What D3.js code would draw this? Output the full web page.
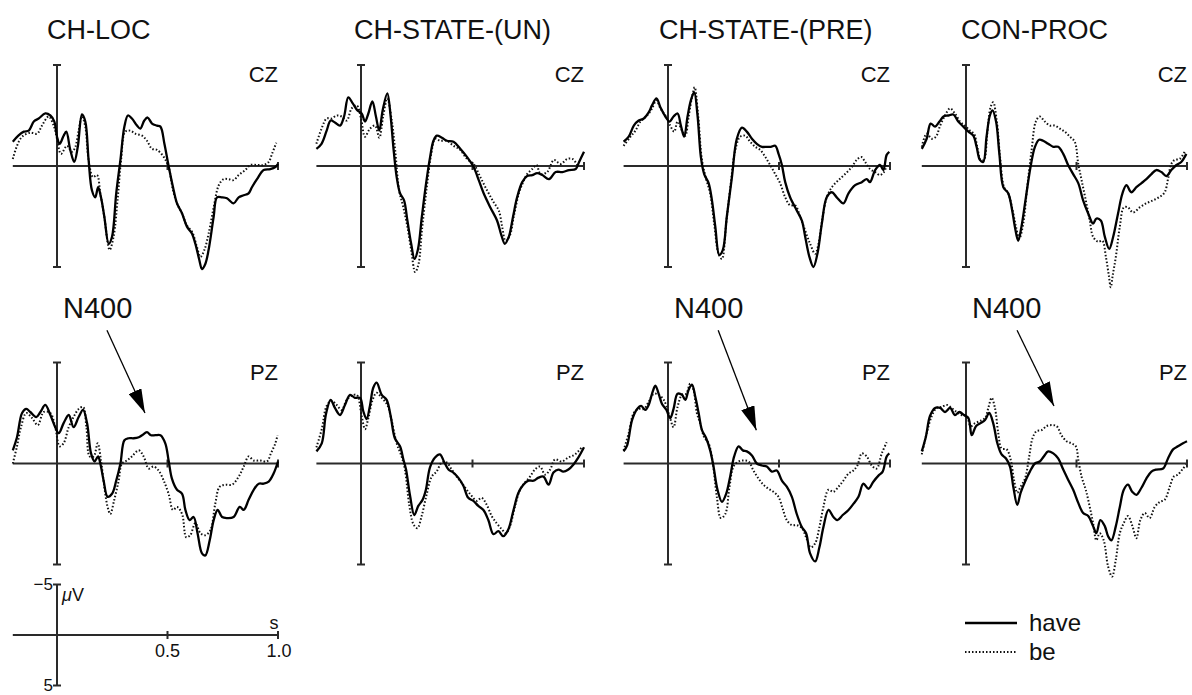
<!DOCTYPE html>
<html><head><meta charset="utf-8">
<script src="https://cdn.jsdelivr.net/npm/d3@7"></script>
<style>
body{margin:0;background:#fff}
svg{display:block}
text{font-family:"Liberation Sans",Arial,Helvetica,sans-serif;fill:#111}
</style>
</head><body>
<svg id="chart" width="1192" height="695"></svg>
<script>
// ---- categories ----
const conditions = ["CH-LOC", "CH-STATE-(UN)", "CH-STATE-(PRE)", "CON-PROC"];
const electrodes = ["CZ", "PZ"];
const seriesNames = ["have", "be"];
// ---- scale-bar tick labels ----
const timeTickValues = [500, 1000];
const timeTickLabels = ["0.5", "1.0"];
const voltTickValues = [-5, 5];
const voltTickLabels = ["\u22125", "5"];

// ---- series values: [time (ms), amplitude (µV), negative up] ----
const chLocCzHave = [[-200,-2.4],[-175,-3.0],[-150,-3.4],[-128,-3.5],[-105,-4.4],[-83,-4.7],[-53,-5.2],[-30,-5.0],[-12,-4.4],[0,-2.9],[12,-2.2],[30,-3.0],[42,-3.4],[60,-1.6],[78,-0.4],[94,-1.9],[113,-5.1],[128,-4.4],[143,-0.6],[158,2.4],[173,3.1],[186,2.1],[199,3.1],[214,5.0],[234,7.7],[249,7.0],[268,2.7],[287,-0.6],[305,-3.9],[321,-5.0],[339,-4.7],[362,-4.0],[377,-3.7],[395,-4.5],[410,-4.8],[430,-4.2],[452,-4.0],[468,-3.9],[486,-2.2],[505,0],[525,2.1],[543,3.7],[566,4.7],[588,6.0],[611,6.7],[626,7.7],[644,9.3],[656,10.2],[671,9.7],[686,8.3],[709,5.0],[724,3.1],[747,3.1],[769,3.2],[799,3.7],[822,3.1],[845,2.9],[867,2.7],[882,2.1],[905,1.3],[935,0.4],[965,0.3],[988,0.1],[1000,-0.2]];
const chLocCzBe = [[-200,-0.7],[-181,-2.0],[-158,-2.9],[-121,-3.3],[-90,-3.2],[-68,-4.0],[-38,-4.9],[-15,-4.0],[0,-2.7],[18,-1.2],[45,-2.0],[68,-1.4],[83,-1.9],[98,-3.5],[113,-4.9],[128,-3.9],[143,-0.6],[163,1.1],[181,0.9],[196,2.7],[214,5.0],[238,8.3],[256,7.0],[275,3.1],[290,-0.6],[309,-3.4],[332,-3.5],[354,-3.2],[385,-3.0],[407,-2.5],[430,-1.7],[452,-1.6],[483,-0.9],[505,0.1],[525,2.4],[543,3.7],[566,4.7],[588,5.9],[611,6.5],[633,8.0],[649,9.0],[667,8.3],[686,6.7],[709,4.1],[732,1.9],[754,1.3],[777,1.3],[799,1.4],[822,0.9],[852,0.4],[875,-0.1],[905,-0.1],[935,-0.1],[958,-0.4],[973,-1.2],[992,-2.3]];
const chStUnCzHave = [[-200,-1.7],[-177,-2.2],[-154,-3.5],[-136,-4.5],[-117,-4.3],[-94,-4.0],[-76,-4.9],[-57,-6.8],[-37,-6.2],[-16,-5.5],[3,-5.2],[18,-4.4],[33,-5.2],[51,-6.4],[67,-4.9],[82,-3.5],[97,-5.5],[118,-7.2],[133,-4.9],[145,-1.9],[160,1.1],[175,2.7],[193,3.4],[208,5.4],[225,7.7],[240,9.2],[255,8.3],[273,5.0],[292,1.7],[310,-0.9],[325,-2.5],[340,-3.0],[363,-2.8],[385,-2.5],[415,-2.4],[445,-1.7],[475,-0.9],[505,0.1],[528,1.4],[550,2.7],[580,4.1],[610,5.4],[630,6.9],[645,7.7],[663,7.0],[682,5.0],[700,3.1],[723,1.6],[745,1.0],[768,0.9],[790,0.7],[813,0.9],[843,1.3],[873,0.6],[903,0.6],[933,0.4],[963,0.3],[978,-0.4],[1000,-1.4]];
const chStUnCzBe = [[-200,-2.2],[-177,-3.7],[-154,-4.7],[-132,-4.7],[-109,-5.0],[-87,-4.9],[-64,-4.5],[-42,-5.7],[-19,-6.0],[0,-4.7],[18,-2.9],[40,-3.7],[63,-4.0],[82,-2.8],[100,-5.0],[118,-6.7],[138,-4.5],[153,-1.6],[171,2.4],[190,4.1],[208,6.0],[225,8.3],[243,10.5],[258,9.7],[273,6.4],[295,2.1],[315,-1.2],[333,-2.7],[355,-2.5],[385,-2.5],[415,-2.0],[445,-1.6],[475,-0.7],[505,-0.2],[535,1.1],[565,2.4],[595,3.6],[618,4.4],[633,6.0],[648,7.4],[667,6.9],[685,5.0],[708,2.7],[727,1.6],[745,0.8],[768,0.3],[787,-0.1],[805,0.8],[835,0.6],[865,-0.6],[895,-0.2],[925,-0.7],[948,-0.7],[970,-0.1]];
const chStPreCzHave = [[-200,-2.4],[-177,-2.9],[-154,-4.0],[-132,-4.5],[-109,-4.7],[-87,-5.3],[-72,-6.0],[-52,-6.7],[-34,-5.8],[-12,-4.9],[7,-4.4],[25,-4.9],[43,-5.2],[58,-4.0],[73,-2.9],[88,-4.9],[103,-6.5],[118,-7.3],[133,-5.0],[148,-0.9],[163,0.8],[183,1.7],[198,3.4],[213,6.0],[231,8.8],[247,8.3],[265,5.0],[288,1.1],[310,-2.7],[333,-3.8],[355,-3.4],[378,-2.7],[400,-2.2],[423,-1.9],[445,-1.9],[463,-1.9],[483,-2.0],[498,-1.2],[513,-0.1],[528,1.6],[550,3.1],[580,4.4],[603,5.4],[618,7.0],[637,9.0],[655,10.0],[673,8.7],[693,5.7],[715,3.1],[738,2.6],[760,3.1],[790,3.7],[813,2.7],[843,1.9],[873,1.6],[895,1.3],[910,1.6],[933,0.4],[955,-0.1],[970,0.4],[985,-1.1],[997,-1.4]];
const chStPreCzBe = [[-200,-2.0],[-169,-2.9],[-147,-3.5],[-124,-4.4],[-94,-5.0],[-72,-5.7],[-52,-6.5],[-34,-5.7],[-12,-5.0],[10,-4.0],[28,-3.4],[43,-4.4],[63,-3.5],[78,-3.0],[93,-4.9],[108,-6.8],[120,-7.8],[135,-5.2],[153,-0.6],[172,1.3],[190,2.7],[208,5.7],[228,8.7],[243,9.2],[262,5.7],[283,1.7],[303,-1.6],[325,-2.9],[348,-3.0],[370,-2.4],[393,-1.9],[415,-1.6],[438,-0.9],[460,-0.1],[483,0.8],[505,1.7],[528,3.1],[550,3.9],[573,3.9],[595,5.0],[618,6.4],[640,7.7],[663,8.7],[678,7.7],[697,5.0],[715,3.1],[738,2.1],[768,1.4],[798,0.8],[828,0.1],[850,-0.6],[870,-0.9],[888,-0.4],[910,0.3],[933,0.6],[955,0.9],[973,0.6],[985,-0.1]];
const conProcCzHave = [[-200,-1.7],[-178,-2.7],[-160,-4.2],[-140,-3.9],[-120,-4.4],[-102,-4.9],[-80,-5.0],[-57,-5.1],[-35,-4.4],[-12,-3.9],[11,-3.4],[33,-3.0],[48,-1.9],[63,-0.6],[78,-0.4],[93,-2.9],[108,-5.0],[120,-5.5],[136,-4.4],[151,-1.2],[169,2.1],[191,2.7],[209,4.4],[221,6.0],[236,7.4],[251,6.0],[271,3.1],[292,0.1],[312,-1.9],[331,-2.6],[349,-2.5],[372,-2.2],[395,-1.9],[417,-1.9],[440,-1.2],[462,-0.1],[485,0.8],[508,1.7],[530,3.4],[553,4.7],[575,5.7],[590,5.2],[610,5.4],[628,7.0],[648,8.2],[666,7.0],[688,4.7],[708,2.7],[726,1.9],[748,2.6],[771,2.1],[794,1.7],[816,1.3],[839,0.8],[861,0.4],[884,0.6],[907,1.0],[929,0.4],[952,-0.1],[974,-0.4],[997,-1.2]];
const conProcCzBe = [[-200,-1.9],[-178,-3.2],[-155,-2.7],[-136,-2.9],[-117,-4.0],[-95,-5.0],[-72,-5.7],[-50,-5.2],[-27,-4.4],[-5,-4.0],[18,-3.5],[36,-3.2],[51,-1.9],[66,-0.6],[81,-0.6],[96,-3.2],[111,-5.8],[123,-6.3],[139,-4.5],[154,-0.9],[172,2.1],[191,2.7],[211,4.4],[226,6.0],[241,7.2],[259,5.7],[277,2.1],[297,-1.6],[316,-4.4],[334,-4.9],[357,-4.4],[380,-4.0],[402,-4.0],[425,-3.7],[447,-3.4],[470,-2.9],[492,-2.4],[508,-0.2],[523,1.4],[542,3.4],[560,5.4],[575,7.0],[598,7.5],[617,7.4],[633,9.0],[646,10.8],[655,12.0],[664,10.8],[678,9.0],[696,6.0],[714,4.1],[733,4.1],[756,4.6],[786,4.1],[816,3.7],[846,3.4],[873,3.1],[899,2.6],[914,1.3],[929,-0.2],[944,-0.6],[967,-0.7],[989,-1.4]];
const chLocPzHave = [[-200,-1.3],[-181,-2.6],[-158,-5.0],[-139,-5.4],[-121,-5.1],[-94,-4.6],[-75,-5.1],[-53,-5.8],[-30,-4.8],[-8,-3.6],[8,-3.0],[30,-4.0],[53,-4.8],[75,-3.6],[98,-4.6],[118,-5.3],[136,-4.0],[154,-1.0],[170,-0.2],[186,-0.7],[196,0],[211,1.7],[229,3.3],[249,3.0],[268,1.7],[287,0],[305,-2.3],[324,-2.5],[347,-2.5],[370,-2.6],[385,-2.8],[407,-3.1],[425,-2.8],[445,-2.8],[468,-2.8],[490,-2.0],[505,-0.3],[520,1.5],[543,2.6],[566,3.0],[581,4.6],[600,5.6],[618,5.3],[636,6.9],[656,8.9],[671,9.1],[691,7.6],[709,5.6],[727,4.6],[747,5.3],[769,5.4],[799,5.3],[827,4.3],[845,4.6],[867,3.6],[890,2.6],[913,2.0],[935,2.0],[958,1.8],[980,1.0],[1000,-0.2]];
const chLocPzBe = [[-200,0],[-181,-1.7],[-163,-3.6],[-139,-5.0],[-113,-4.5],[-87,-3.8],[-60,-5.1],[-30,-5.0],[-8,-3.6],[12,-1.7],[30,-2.0],[53,-3.6],[75,-4.6],[98,-5.4],[118,-5.6],[133,-3.6],[148,-0.7],[166,-0.7],[184,-2.0],[199,-0.3],[214,2.3],[229,4.3],[241,5.0],[259,3.6],[279,1.7],[294,0],[317,-0.3],[339,-0.7],[370,-1.3],[392,-0.7],[415,0.5],[437,0.3],[460,0.7],[483,1.7],[505,3.0],[525,4.6],[543,4.3],[566,5.0],[585,7.3],[603,7.1],[626,5.9],[649,6.9],[671,7.1],[694,6.6],[716,4.0],[736,2.3],[762,2.1],[792,2.1],[822,1.3],[845,0.3],[867,-0.7],[890,-0.3],[920,-0.3],[950,-0.2],[968,-1.0],[988,-2.0],[998,-2.8]];
const chStUnPzHave = [[-200,-1.2],[-176,-2.0],[-157,-4.9],[-136,-6.3],[-117,-5.5],[-94,-4.8],[-72,-5.8],[-49,-6.8],[-27,-6.5],[-4,-6.5],[10,-5.2],[25,-4.4],[40,-5.7],[55,-7.5],[70,-8.0],[93,-6.8],[115,-6.3],[133,-4.7],[152,-2.5],[175,-1.7],[190,-0.4],[202,0.6],[220,3.2],[239,5.1],[257,4.2],[276,3.6],[291,2.6],[309,0.4],[332,-0.6],[354,-0.9],[372,-0.2],[392,0.6],[414,0.9],[436,1.4],[459,2.2],[481,3.4],[504,3.7],[526,4.2],[549,4.6],[571,5.6],[594,7.0],[616,6.7],[638,7.2],[661,6.5],[684,4.6],[706,2.9],[728,2.1],[751,1.7],[774,1.7],[796,1.4],[818,1.3],[841,2.1],[863,0.9],[885,0.6],[907,0.8],[930,0.6],[953,0.1],[975,-0.6],[1000,-1.6]];
const chStUnPzBe = [[-200,-1.6],[-176,-3.4],[-154,-5.7],[-132,-6.2],[-109,-5.8],[-87,-5.3],[-64,-6.3],[-42,-6.7],[-19,-6.8],[3,-4.7],[18,-3.4],[33,-4.5],[52,-6.3],[70,-7.0],[93,-6.5],[118,-5.8],[138,-4.2],[160,-2.0],[182,-0.7],[197,0.6],[217,4.2],[235,6.0],[253,6.4],[272,5.2],[294,3.1],[317,1.3],[339,0.8],[362,-0.1],[384,-0.1],[407,0.6],[429,1.3],[451,1.9],[474,2.6],[496,3.2],[519,3.7],[541,3.4],[564,4.1],[586,5.2],[608,5.9],[631,6.5],[650,6.9],[668,6.2],[691,4.2],[713,2.6],[735,1.9],[758,1.3],[780,0.6],[803,0.3],[825,1.1],[848,0.6],[870,-0.4],[900,-0.2],[930,-0.6],[960,-0.9],[990,-1.6]];
const chStPrePzHave = [[-200,-1.2],[-184,-1.8],[-162,-4.3],[-139,-5.4],[-121,-5.7],[-102,-5.3],[-87,-5.8],[-72,-6.9],[-57,-7.7],[-42,-6.9],[-27,-5.9],[-7,-5.3],[10,-4.5],[25,-5.4],[43,-6.9],[63,-6.8],[78,-6.3],[93,-7.3],[108,-7.8],[123,-6.6],[138,-5.0],[153,-3.3],[172,-2.5],[190,-1.3],[205,0.3],[223,2.6],[243,3.8],[262,3.0],[280,1.3],[298,-0.7],[318,-1.7],[337,-1.3],[355,-1.2],[378,-0.8],[400,0],[423,0.2],[445,0.3],[468,0.8],[490,0.7],[513,1.7],[535,2.3],[558,3.3],[580,5.0],[603,6.3],[622,6.9],[640,8.9],[663,9.7],[682,8.3],[700,6.3],[723,4.6],[745,5.3],[763,5.6],[787,5.1],[813,4.6],[835,4.0],[858,3.3],[880,2.0],[903,2.5],[925,1.8],[948,1.2],[967,0.8],[985,-0.7],[997,-1.0]];
const chStPrePzBe = [[-200,-1.3],[-177,-3.0],[-154,-5.0],[-132,-5.4],[-109,-5.4],[-87,-6.1],[-64,-6.9],[-42,-6.8],[-19,-6.3],[3,-5.0],[25,-3.6],[43,-5.6],[63,-6.8],[82,-6.9],[100,-7.9],[115,-7.3],[130,-5.0],[145,-4.0],[163,-2.6],[183,-2.0],[202,0],[220,3.3],[238,5.4],[258,5.0],[277,2.3],[295,0.3],[318,-0.2],[340,-0.3],[363,-0.2],[385,0.7],[408,1.5],[430,2.1],[453,2.5],[475,2.8],[498,3.3],[517,4.5],[535,5.6],[558,6.1],[580,6.1],[603,6.4],[622,7.3],[643,8.3],[663,7.9],[682,6.3],[700,4.3],[723,2.6],[745,2.8],[768,2.3],[790,1.7],[813,1.0],[835,0.7],[853,0.2],[873,-1.0],[895,-0.7],[918,0.2],[940,0.5],[963,-1.0],[985,-2.1]];
const conProcPzHave = [[-200,-1.2],[-181,-2.7],[-163,-4.7],[-140,-5.5],[-117,-5.5],[-95,-5.1],[-72,-5.5],[-50,-4.8],[-30,-5.1],[-9,-4.8],[11,-4.5],[26,-2.8],[45,-3.7],[66,-4.0],[86,-4.3],[105,-5.0],[123,-4.0],[142,-2.0],[161,-0.9],[181,-0.5],[199,0.3],[214,2.3],[232,4.1],[247,2.9],[267,1.8],[289,0.8],[312,0],[334,-0.2],[352,-0.7],[372,-1.2],[395,-1.0],[417,-0.5],[440,0.6],[462,1.6],[485,2.6],[508,3.9],[530,4.9],[553,5.2],[575,6.2],[590,6.9],[608,5.6],[628,6.2],[643,7.2],[658,7.6],[678,6.2],[696,4.3],[714,2.6],[733,2.1],[752,2.8],[771,3.1],[794,2.4],[816,1.5],[839,0.8],[861,0.6],[892,0.5],[914,-0.5],[937,-1.4],[959,-1.7],[982,-2.0],[1000,-2.2]];
const conProcPzBe = [[-200,-0.9],[-178,-3.0],[-155,-4.7],[-133,-5.5],[-110,-5.6],[-87,-5.8],[-65,-5.5],[-42,-5.1],[-20,-4.8],[3,-4.7],[21,-3.7],[41,-4.0],[63,-4.2],[86,-4.5],[101,-5.5],[116,-6.5],[131,-5.5],[146,-3.0],[161,-1.5],[184,-1.4],[202,-0.4],[217,1.6],[232,2.9],[247,2.3],[267,1.5],[286,-0.7],[301,-2.5],[319,-3.2],[342,-3.3],[364,-3.7],[387,-3.8],[410,-3.7],[432,-2.8],[455,-2.2],[477,-2.0],[497,-1.7],[508,-0.4],[523,1.3],[542,2.6],[560,4.3],[575,5.9],[590,7.6],[605,6.9],[623,7.6],[643,10.2],[661,11.2],[678,9.5],[696,6.9],[714,5.9],[733,5.2],[753,6.2],[771,7.4],[789,5.6],[809,4.9],[831,5.4],[854,4.3],[877,3.8],[899,3.6],[922,2.3],[940,1.3],[959,1.1],[982,0.5],[997,0.1]];

// ---- N400 annotations: panel (col,row), arrow from/to in (ms, µV) ----
const n400Cols = [0, 2, 3];
const n400From = [[226,-13.2],[226,-13.2],[231,-13.2]];
const n400To = [[398,-5.0],[398,-3.3],[398,-5.7]];

// ---- build table ----
const panelSeries = [
  [[chLocCzHave, chLocCzBe], [chLocPzHave, chLocPzBe]],
  [[chStUnCzHave, chStUnCzBe], [chStUnPzHave, chStUnPzBe]],
  [[chStPreCzHave, chStPreCzBe], [chStPrePzHave, chStPrePzBe]],
  [[conProcCzHave, conProcCzBe], [conProcPzHave, conProcPzBe]]
];

// ---- layout ----
const svg = d3.select("#chart");
const colZeroX = [57, 361, 668, 966];
const colEndX = [278, 584, 890, 1187];
const titleX = [47, 354, 659, 961];
const rowZeroY = [166, 463.5];
const pxPerUV = 10.1;
const AX = "#2a2a2a";

svg.append("defs").append("marker")
  .attr("id", "ah").attr("markerUnits", "userSpaceOnUse")
  .attr("viewBox", "0 -7 24 14").attr("refX", 24).attr("refY", 0)
  .attr("markerWidth", 24).attr("markerHeight", 14).attr("orient", "auto")
  .append("path").attr("d", "M0,-7L24,0L0,7Z").attr("fill", "#000");

function scalesFor(c, r) {
  const x = d3.scaleLinear().domain([0, 1000]).range([colZeroX[c], colEndX[c]]);
  const y = d3.scaleLinear().domain([-10, 10]).range([rowZeroY[r] - 10 * pxPerUV, rowZeroY[r] + 10 * pxPerUV]);
  return {x, y};
}

conditions.forEach((cond, c) => {
  svg.append("text").attr("x", titleX[c]).attr("y", 39).attr("font-size", 27).text(cond);
  electrodes.forEach((el, r) => {
    const {x, y} = scalesFor(c, r);
    const g = svg.append("g");
    g.append("line").attr("x1", x(-200)).attr("x2", x(1000)).attr("y1", y(0)).attr("y2", y(0))
      .attr("stroke", AX).attr("stroke-width", 2);
    g.selectAll(".tt").data(timeTickValues).join("line")
      .attr("x1", d => x(d)).attr("x2", d => x(d)).attr("y1", y(0) - 4).attr("y2", y(0) + 4)
      .attr("stroke", AX).attr("stroke-width", 2);
    g.append("line").attr("x1", x(0)).attr("x2", x(0)).attr("y1", y(-10)).attr("y2", y(10))
      .attr("stroke", AX).attr("stroke-width", 2);
    g.selectAll(".vt").data([-10, 10]).join("line")
      .attr("x1", x(0) - 4).attr("x2", x(0) + 4).attr("y1", d => y(d)).attr("y2", d => y(d))
      .attr("stroke", AX).attr("stroke-width", 2);
    g.append("text").attr("x", x(1000)).attr("y", y(0) - 84).attr("text-anchor", "end")
      .attr("font-size", 22).text(el);
    const line = d3.line().x(d => x(d[0])).y(d => y(d[1])).curve(d3.curveCatmullRom.alpha(0.5));
    const [have, be] = panelSeries[c][r];
    g.append("path").datum(be).attr("d", line).attr("fill", "none")
      .attr("stroke", "#111").attr("stroke-width", 2).attr("stroke-dasharray", "1.5,2");
    g.append("path").datum(have).attr("d", line).attr("fill", "none")
      .attr("stroke", "#000").attr("stroke-width", 2.3).attr("stroke-linejoin", "round");
  });
});

n400Cols.forEach((c, i) => {
  const {x, y} = scalesFor(c, 1);
  svg.append("text").attr("x", x(0) + 6).attr("y", y(-14.4)).attr("font-size", 29).text("N400");
  svg.append("line").attr("x1", x(n400From[i][0])).attr("y1", y(n400From[i][1]))
    .attr("x2", x(n400To[i][0])).attr("y2", y(n400To[i][1]))
    .attr("stroke", "#000").attr("stroke-width", 1.3).attr("marker-end", "url(#ah)");
});

// scale bar (bottom left)
{
  const x = d3.scaleLinear().domain([0, 1000]).range([colZeroX[0], colEndX[0]]);
  const y = d3.scaleLinear().domain([-5, 5]).range([635 - 5 * pxPerUV, 635 + 5 * pxPerUV]);
  const g = svg.append("g");
  g.append("line").attr("x1", x(-200)).attr("x2", x(1000)).attr("y1", y(0)).attr("y2", y(0))
    .attr("stroke", AX).attr("stroke-width", 2);
  g.selectAll(".tt").data(timeTickValues).join("line")
    .attr("x1", d => x(d)).attr("x2", d => x(d)).attr("y1", y(0) - 4).attr("y2", y(0) + 4)
    .attr("stroke", AX).attr("stroke-width", 2);
  g.selectAll(".tl").data(timeTickValues).join("text")
    .attr("x", (d, i) => x(d) + (i === 1 ? 1 : 0)).attr("y", y(0) + 22).attr("text-anchor", "middle")
    .attr("font-size", 18).text((d, i) => timeTickLabels[i]);
  g.append("text").attr("x", x(1000) - 4).attr("y", y(0) - 6).attr("text-anchor", "middle")
    .attr("font-size", 18).text("s");
  g.append("line").attr("x1", x(0)).attr("x2", x(0)).attr("y1", y(-5)).attr("y2", y(5))
    .attr("stroke", AX).attr("stroke-width", 2);
  g.selectAll(".vt").data(voltTickValues).join("line")
    .attr("x1", x(0) - 4).attr("x2", x(0) + 4).attr("y1", d => y(d)).attr("y2", d => y(d))
    .attr("stroke", AX).attr("stroke-width", 2);
  g.selectAll(".vl").data(voltTickValues).join("text")
    .attr("x", x(0) - 4).attr("y", d => y(d) + 5).attr("text-anchor", "end")
    .attr("font-size", 17).text((d, i) => voltTickLabels[i]);
  const uv = g.append("text").attr("x", x(0) + 5).attr("y", y(-5) + 16).attr("font-size", 18);
  uv.append("tspan").attr("font-style", "italic").text("\u03bc");
  uv.append("tspan").text("V");
}

// legend (bottom right)
{
  const g = svg.append("g");
  const rows = [[623, "#000", 2.5, null], [652, "#111", 1.8, "1.5,2"]];
  seriesNames.forEach((name, i) => {
    const [yy, col, w, dash] = rows[i];
    const l = g.append("line").attr("x1", 965).attr("x2", 1017).attr("y1", yy).attr("y2", yy)
      .attr("stroke", col).attr("stroke-width", w);
    if (dash) l.attr("stroke-dasharray", dash);
    g.append("text").attr("x", 1029).attr("y", yy + 8).attr("font-size", 24).text(name);
  });
}
</script>
</body></html>
